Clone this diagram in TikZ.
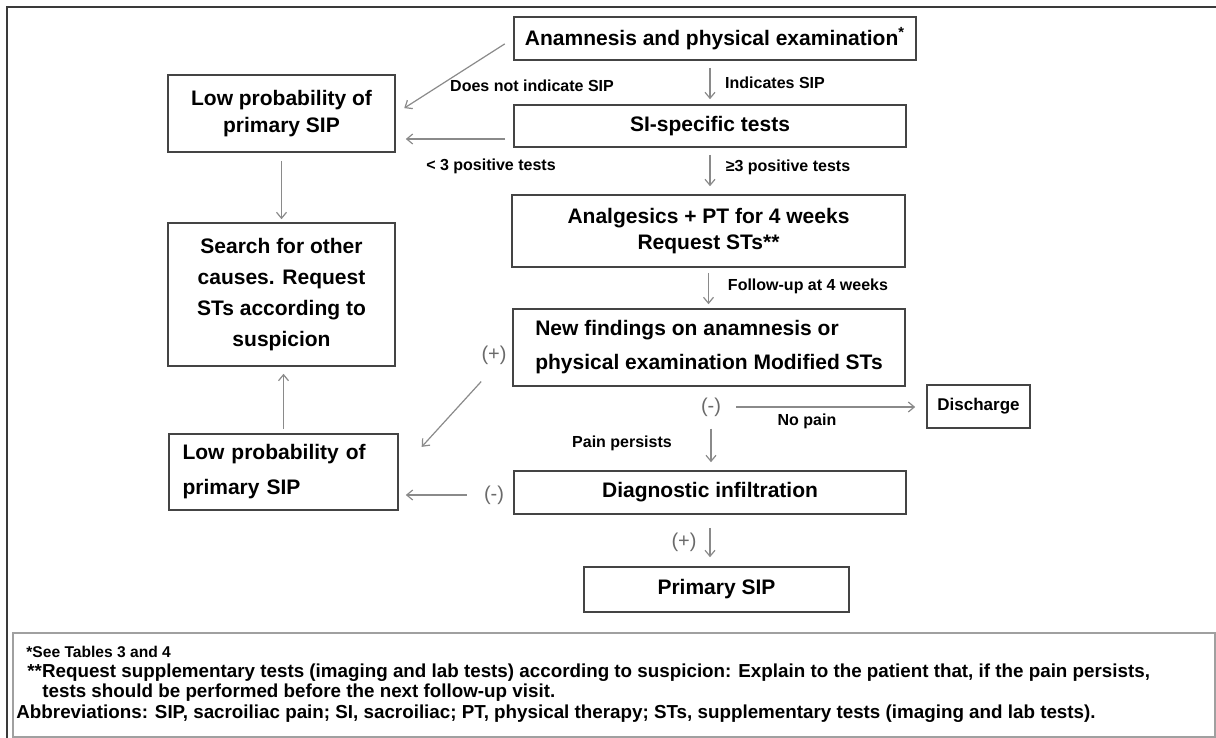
\documentclass[tikz,border=0pt]{standalone}
\usepackage{fontspec}
\setmainfont{Liberation Sans}
\usetikzlibrary{arrows.meta}
\definecolor{framegray}{HTML}{3A3A3A}
\definecolor{boxgray}{HTML}{444444}
\definecolor{arrgray}{HTML}{8A8A8A}
\definecolor{signgray}{HTML}{6A6A6A}
\definecolor{notegray}{HTML}{A0A0A0}

\begin{document}
\begin{tikzpicture}[x=0.5pt, y=-0.5pt,
    box/.style={draw=boxgray, line width=0.8pt, inner sep=0pt, align=center,
      font=\bfseries\fontsize{10.5}{14}\selectfont},
    lbl/.style={inner sep=0pt, font=\bfseries\fontsize{8}{9.5}\selectfont},
    sign/.style={inner sep=0pt, text=signgray, font=\fontsize{10}{12}\selectfont},
    note/.style={anchor=west, inner sep=0pt, font=\bfseries\fontsize{9.4}{11}\selectfont},
    arr/.style={draw=arrgray, line width=0.6pt, -{Straight Barb[length=3pt, width=5pt]}}]
        \useasboundingbox (0,0) rectangle (1216,738);

        %frame
        \draw[framegray, line width=1.1pt] (7,738) -- (7,7) -- (1216,7);
        \draw[notegray, line width=0.6pt] (13,633) rectangle (1215,737);

        %nodes
        \node[box, minimum width=201pt, minimum height=21.5pt] (anam) at (715, 38.5) {Anamnesis and physical examination\textsuperscript{*}};
        \node[box, minimum width=196pt, minimum height=21pt] (sitest) at (710, 126) {SI-specific tests};
        \node[box, minimum width=196.5pt, minimum height=36pt, font=\bfseries\fontsize{10.5}{13}\selectfont] (analg) at (708.5, 231) {Analgesics + PT for 4 weeks\\Request STs**};
        \node[box, minimum width=196pt, minimum height=38.5pt, align=left, font=\bfseries\fontsize{10.5}{17}\selectfont] (newf) at (709, 347.5) {New findings on anamnesis or\\physical examination Modified STs};
        \node[box, minimum width=51.5pt, minimum height=21.5pt, font=\bfseries\fontsize{8.5}{10}\selectfont] (disch) at (978.5, 406.5) {Discharge};
        \node[box, minimum width=196pt, minimum height=21.5pt] (diag) at (710, 492.5) {Diagnostic infiltration};
        \node[box, minimum width=132.5pt, minimum height=22.5pt] (prim) at (716.5, 589.5) {Primary SIP};
        \node[box, minimum width=113.5pt, minimum height=38.5pt, font=\bfseries\fontsize{10.5}{13.5}\selectfont] (low1) at (281.5, 113.5) {Low probability of\\primary SIP};
        \node[box, minimum width=113.5pt, minimum height=71.5pt, font=\bfseries\fontsize{10.5}{15.5}\selectfont] (search) at (281.5, 294.5) {Search for other\\causes. Request\\STs according to\\suspicion};
        \node[box, minimum width=114.5pt, minimum height=38pt, text width=101pt, align=left, font=\bfseries\fontsize{10.5}{17.5}\selectfont] (low2) at (283.5, 472) {Low probability of\\primary SIP};

        %labels
        \node[lbl] (nosip) at (532, 86) {Does not indicate SIP};
        \node[lbl] (yessip) at (775, 83) {Indicates SIP};
        \node[lbl] (few) at (491, 166) {< 3 positive tests};
        \node[lbl] (many) at (788, 167) {≥3 positive tests};
        \node[lbl] (follow) at (808, 286) {Follow-up at 4 weeks};
        \node[lbl] (nopain) at (807, 421) {No pain};
        \node[lbl] (pain) at (622, 443) {Pain persists};
        \node[sign] (pos1) at (494, 355) {(+)};
        \node[sign] (neg1) at (711, 407) {(-)};
        \node[sign] (neg2) at (494, 495) {(-)};
        \node[sign] (pos2) at (684, 542) {(+)};

        %notes
        \node[note, font=\bfseries\fontsize{7.8}{9}\selectfont] (n1) at (26, 652) {*See Tables 3 and 4};
        \node[note] (n2) at (27, 673) {**Request supplementary tests (imaging and lab tests) according to suspicion: Explain to the patient that, if the pain persists,};
        \node[note] (n3) at (42, 693) {tests should be performed before the next follow-up visit.};
        \node[note] (n4) at (16, 714) {Abbreviations: SIP, sacroiliac pain; SI, sacroiliac; PT, physical therapy; STs, supplementary tests (imaging and lab tests).};

        %edges
        \draw[arr, shorten <=5pt, shorten >=5pt] (anam.west) -- (low1.east);
        \draw[arr, shorten <=4pt, shorten >=5pt] ([yshift=-6.5pt]sitest.west) -- ([yshift=-6.5pt]sitest.west -| low1.east);
        \draw[arr, shorten <=4pt, shorten >=1.5pt] (low1.south) -- (search.north);
        \draw[arr, shorten <=3.5pt, shorten >=2.5pt] (anam.south -| sitest.north) -- (sitest.north);
        \draw[arr, shorten <=3.5pt, shorten >=4pt] (sitest.south) -- (sitest.south |- analg.north);
        \draw[arr, shorten <=2.5pt, shorten >=2pt] (analg.south) -- (analg.south |- newf.north);
        \draw[arr, shorten <=7.5pt, shorten >=5.5pt] (neg1.east) -- (neg1.east -| disch.west);
        \draw[arr, shorten <=6pt, shorten >=4pt] (neg1.south) -- (neg1.south |- diag.north);
        \draw[arr, shorten <=8.5pt, shorten >=3.5pt] (neg2.west) -- (neg2.west -| low2.east);
        \draw[arr, shorten <=23pt, shorten >=17pt] (newf.west) -- (low2.east);
        \draw[arr, shorten <=6.5pt, shorten >=4.5pt] (diag.south) -- (diag.south |- prim.north);
        \draw[arr, shorten <=2pt, shorten >=3.5pt] (low2.north) -- (low2.north |- search.south);
    \end{tikzpicture}
\end{document}
